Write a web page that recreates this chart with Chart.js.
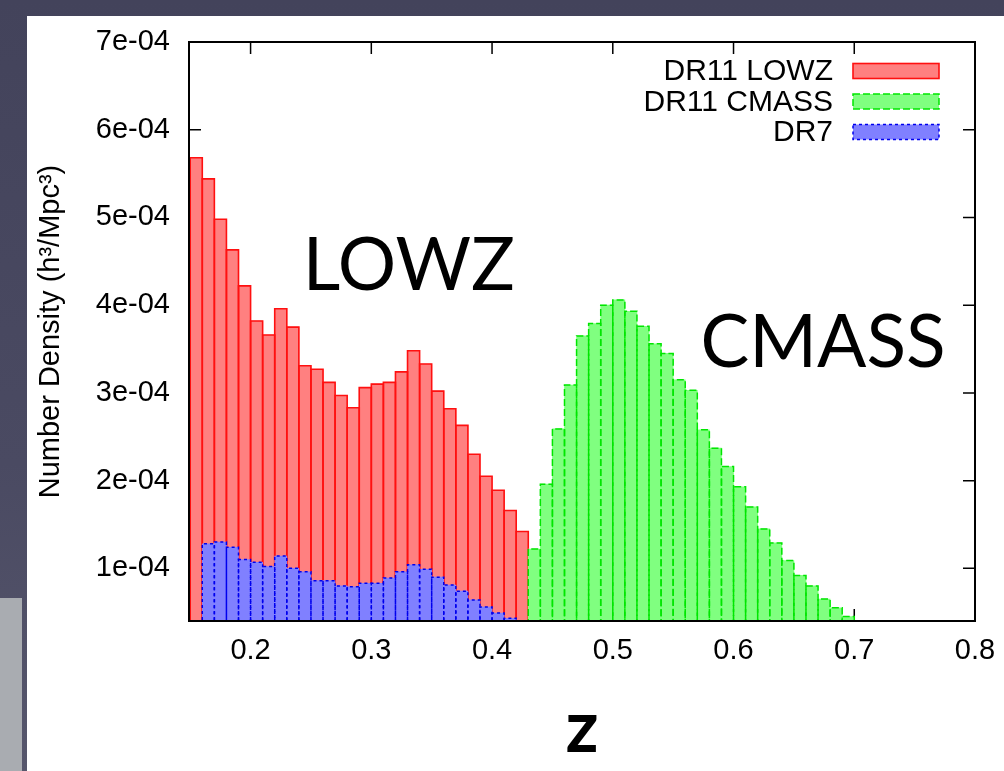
<!DOCTYPE html>
<html>
<head>
<meta charset="utf-8">
<script src="https://cdn.jsdelivr.net/npm/chart.js"></script>
<style>
  html, body { margin: 0; padding: 0; }
  body { width: 1004px; height: 771px; overflow: hidden; position: relative;
         background: linear-gradient(180deg, #43435b 0%, #4a4a62 60%, #56566c 100%); }
  #panel { position: absolute; left: 27px; top: 16px; right: 0; bottom: 0; background: #fff; }
  #patch { position: absolute; left: 0; top: 598px; width: 22px; bottom: 0; background: #a9acb1; }
  #wrap { position: absolute; left: 0; top: 0; width: 1004px; height: 771px; }
</style>
</head>
<body>
<div id="panel"></div>
<div id="patch"></div>
<div id="wrap"><canvas id="myChart" width="1004" height="771"></canvas></div>
<script>
// 빈 중심값 (z)
const lowzZ = [0.155, 0.165, 0.175, 0.185, 0.195, 0.205, 0.215, 0.225, 0.235, 0.245,
               0.255, 0.265, 0.275, 0.285, 0.295, 0.305, 0.315, 0.325, 0.335, 0.345,
               0.355, 0.365, 0.375, 0.385, 0.395, 0.405, 0.415, 0.425];
const cmassZ = [0.435, 0.445, 0.455, 0.465, 0.475, 0.485, 0.495, 0.505, 0.515, 0.525,
                0.535, 0.545, 0.555, 0.565, 0.575, 0.585, 0.595, 0.605, 0.615, 0.625,
                0.635, 0.645, 0.655, 0.665, 0.675, 0.685, 0.695];
const dr7Z = [0.165, 0.175, 0.185, 0.195, 0.205, 0.215, 0.225, 0.235, 0.245, 0.255,
              0.265, 0.275, 0.285, 0.295, 0.305, 0.315, 0.325, 0.335, 0.345, 0.355,
              0.365, 0.375, 0.385, 0.395, 0.405, 0.415];

// 수밀도 (단위: 1e-4 h^3/Mpc^3)
const lowzN = [5.68, 5.44, 4.98, 4.63, 4.22, 3.82, 3.66, 3.96, 3.75, 3.31,
               3.27, 3.12, 2.97, 2.83, 3.06, 3.10, 3.12, 3.24, 3.48, 3.33,
               3.02, 2.82, 2.63, 2.30, 2.05, 1.89, 1.66, 1.42];
const cmassN = [1.22, 1.96, 2.59, 3.09, 3.65, 3.79, 4.00, 4.06, 3.93, 3.76,
                3.56, 3.45, 3.15, 3.03, 2.58, 2.37, 2.16, 1.93, 1.70, 1.45,
                1.29, 1.09, 0.92, 0.80, 0.65, 0.55, 0.45];
const dr7N = [1.28, 1.30, 1.24, 1.10, 1.07, 1.02, 1.14, 1.00, 0.96, 0.86,
              0.86, 0.80, 0.79, 0.83, 0.83, 0.89, 0.96, 1.04, 0.99, 0.90,
              0.81, 0.74, 0.64, 0.56, 0.49, 0.43];

const seriesLabels = ['DR11 LOWZ', 'DR11 CMASS', 'DR7'];
const xTickValues = [0.2, 0.3, 0.4, 0.5, 0.6, 0.7, 0.8];

const FONT = "'Liberation Sans', Arial, sans-serif";

function toPoints(zs, ns) {
    return zs.map((z, i) => ({ x: z, y: ns[i] * 1e-4 }));
}

function expLabel(v) {
    // 7e-4 -> 7e-04
    return Number(v).toExponential(0).replace(/e([+-])(\d)$/, 'e$10$2');
}

// 막대 테두리 (점선 지원)
const outlinePlugin = {
    id: 'outlines',
    afterDatasetDraw(chart, args) {
        const ds = chart.data.datasets[args.index];
        const ctx = chart.ctx;
        const a = chart.chartArea;
        ctx.save();
        ctx.beginPath();
        ctx.rect(a.left, a.top, a.right - a.left, a.bottom - a.top);
        ctx.clip();
        ctx.strokeStyle = ds.outlineColor;
        ctx.lineWidth = ds.outlineWidth;
        ctx.setLineDash(ds.outlineDash);
        args.meta.data.forEach(bar => {
            const p = bar.getProps(['x', 'y', 'base', 'width'], true);
            const l = p.x - p.width / 2, r = p.x + p.width / 2;
            ctx.beginPath();
            ctx.moveTo(l, p.base);
            ctx.lineTo(l, p.y);
            ctx.lineTo(r, p.y);
            ctx.lineTo(r, p.base);
            ctx.stroke();
        });
        ctx.restore();
    }
};

// 안쪽 눈금 + 테두리
const ticksPlugin = {
    id: 'innerTicks',
    beforeDatasetsDraw(chart) {
        const ctx = chart.ctx;
        const a = chart.chartArea;
        const len = 12;
        ctx.save();
        ctx.strokeStyle = '#000';
        ctx.lineWidth = 1.5;
        chart.scales.x.ticks.forEach(t => {
            const px = chart.scales.x.getPixelForValue(t.value);
            ctx.beginPath();
            ctx.moveTo(px, a.bottom); ctx.lineTo(px, a.bottom - len);
            ctx.moveTo(px, a.top); ctx.lineTo(px, a.top + len);
            ctx.stroke();
        });
        chart.scales.y.ticks.forEach(t => {
            const py = chart.scales.y.getPixelForValue(t.value);
            ctx.beginPath();
            ctx.moveTo(a.left, py); ctx.lineTo(a.left + len, py);
            ctx.moveTo(a.right, py); ctx.lineTo(a.right - len, py);
            ctx.stroke();
        });
        ctx.restore();
    },
    afterDatasetsDraw(chart) {
        const ctx = chart.ctx;
        const a = chart.chartArea;
        ctx.save();
        ctx.strokeStyle = '#000';
        ctx.lineWidth = 2;
        ctx.strokeRect(a.left, a.top, a.right - a.left, a.bottom - a.top);
        ctx.restore();
    }
};

// 범례 + LOWZ / CMASS 글자
const labelPlugin = {
    id: 'labels',
    afterDraw(chart) {
        const ctx = chart.ctx;
        const a = chart.chartArea;
        const xs = chart.scales.x, ys = chart.scales.y;
        ctx.save();
        // 범례
        ctx.font = '30px ' + FONT;
        ctx.textAlign = 'right';
        ctx.textBaseline = 'middle';
        chart.data.datasets.forEach((ds, i) => {
            const cy = a.top + 29 + i * 30.5;
            const sw = 86, sh = 15;
            const sx = a.right - 36 - sw;
            ctx.fillStyle = '#000';
            ctx.fillText(ds.label, sx - 20, cy + 1);
            ctx.fillStyle = ds.backgroundColor;
            ctx.fillRect(sx, cy - sh / 2, sw, sh);
            ctx.strokeStyle = ds.outlineColor;
            ctx.lineWidth = ds.outlineWidth;
            ctx.setLineDash(ds.outlineDash);
            ctx.strokeRect(sx, cy - sh / 2, sw, sh);
        });
        ctx.setLineDash([]);
        // 큰 글자
        ctx.fillStyle = '#000';
        ctx.textAlign = 'left';
        ctx.textBaseline = 'alphabetic';
        ctx.font = '73px Lato, sans-serif';
        ctx.fillText('LOWZ', xs.getPixelForValue(0.2432), ys.getPixelForValue(4.17e-4));
        ctx.fillText('CMASS', xs.getPixelForValue(0.5726), ys.getPixelForValue(3.29e-4));
        ctx.restore();
    }
};

const ctx = document.getElementById('myChart').getContext('2d');
const myChart = new Chart(ctx, {
    type: 'bar',
    data: {
        datasets: [
            {
                label: seriesLabels[0],
                data: toPoints(lowzZ, lowzN),
                backgroundColor: '#ff8080',
                outlineColor: '#ff1010',
                outlineWidth: 1.6,
                outlineDash: [],
                order: 3
            },
            {
                label: seriesLabels[1],
                data: toPoints(cmassZ, cmassN),
                backgroundColor: '#80ff80',
                outlineColor: '#00e600',
                outlineWidth: 1.5,
                outlineDash: [7, 3],
                order: 2
            },
            {
                label: seriesLabels[2],
                data: toPoints(dr7Z, dr7N),
                backgroundColor: '#8080ff',
                outlineColor: '#0000ee',
                outlineWidth: 1.5,
                outlineDash: [3, 3],
                order: 1
            }
        ]
    },
    options: {
        responsive: false,
        animation: false,
        events: [],
        layout: { padding: { top: 42, right: 29, left: 0, bottom: 0 } },
        datasets: {
            bar: {
                grouped: false,
                barPercentage: 1,
                categoryPercentage: 1,
                borderWidth: 0
            }
        },
        scales: {
            x: {
                type: 'linear',
                offset: false,
                min: 0.149,
                max: 0.8,
                afterFit: s => {
                    s.height = 150;
                    s.paddingLeft = 0;
                    s.paddingRight = 0;
                },
                afterBuildTicks: s => { s.ticks = xTickValues.map(v => ({ value: v })); },
                grid: { display: false, drawTicks: false, offset: false },
                border: { display: false },
                ticks: {
                    padding: 13,
                    color: '#000',
                    font: { family: FONT, size: 29 },
                    callback: v => Number(v).toFixed(1)
                },
                title: {
                    display: true,
                    text: 'z',
                    color: '#000',
                    font: { family: 'Lato, sans-serif', size: 72, weight: 'bold', lineHeight: 1 },
                    padding: { top: 0, bottom: 6 }
                }
            },
            y: {
                type: 'linear',
                min: 0.4e-4,
                max: 7e-4,
                afterFit: s => { s.width = 189; },
                grid: { display: false, drawTicks: false },
                border: { display: false },
                ticks: {
                    stepSize: 1e-4,
                    includeBounds: false,
                    padding: 19,
                    color: '#000',
                    font: { family: FONT, size: 29 },
                    callback: v => expLabel(v)
                },
                title: {
                    display: true,
                    text: 'Number Density (h³/Mpc³)',
                    color: '#000',
                    font: { family: FONT, size: 29, lineHeight: 1 },
                    padding: { top: 36, bottom: 0 }
                }
            }
        },
        plugins: {
            legend: { display: false },
            tooltip: { enabled: false }
        }
    },
    plugins: [outlinePlugin, ticksPlugin, labelPlugin]
});
</script>
</body>
</html>
